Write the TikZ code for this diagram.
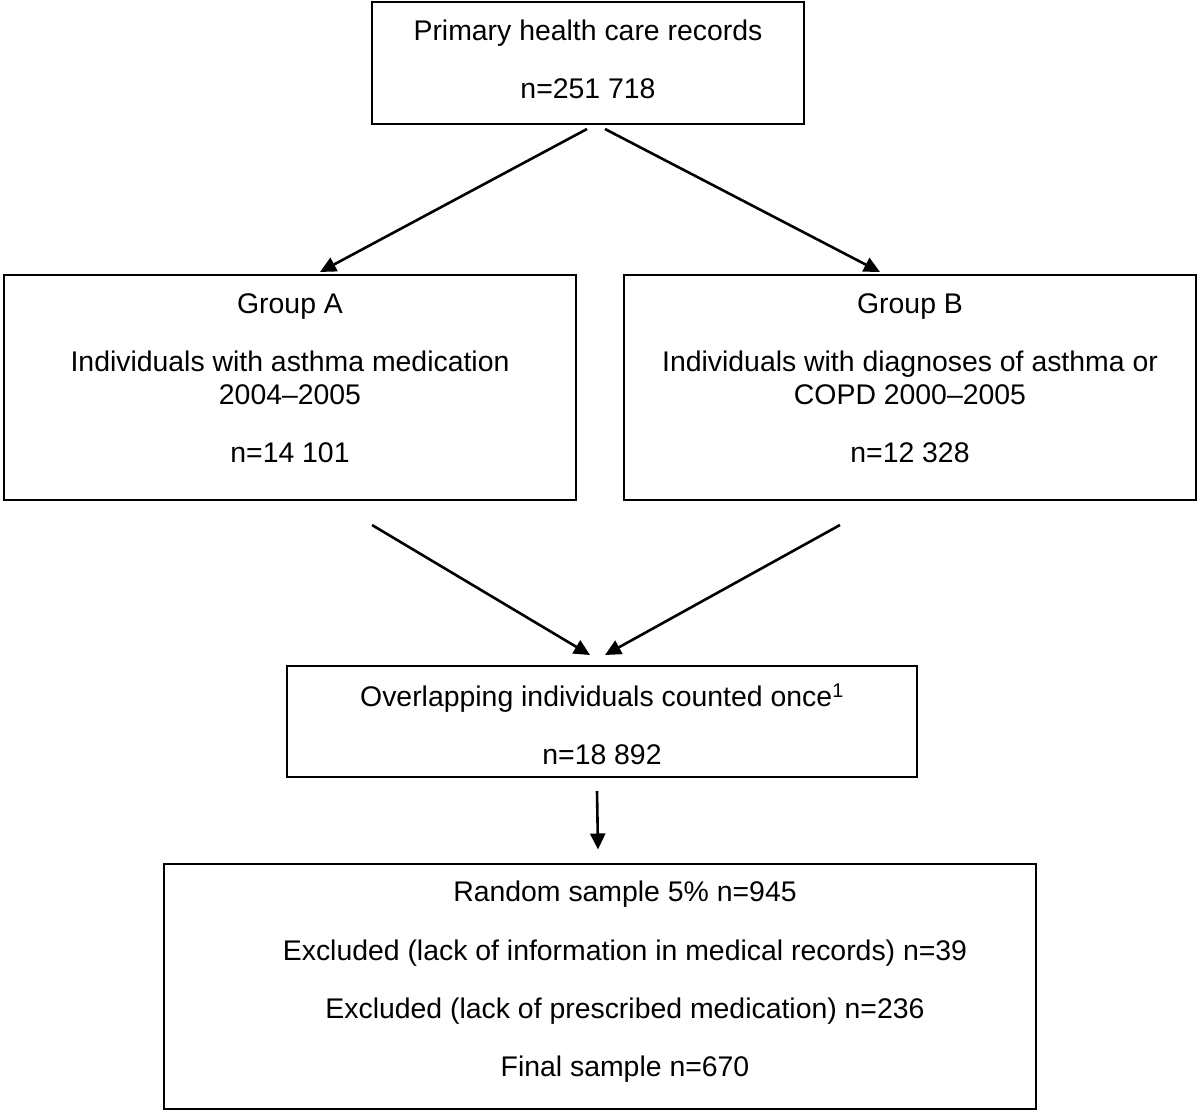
\documentclass[tikz,border=0pt]{standalone}
\usepackage{fontspec}
\setmainfont{Liberation Sans}
\usetikzlibrary{arrows.meta,calc}
\begin{document}
\begin{tikzpicture}[x=1pt,y=-1pt,
  box/.style={draw=black,line width=2pt,inner sep=0pt,minimum width=#1},
  txt/.style={anchor=north,inner sep=0pt,align=center,font=\fontsize{28.4}{33}\selectfont},
  conn/.style={line width=2.6pt,-{Triangle[length=16pt,width=15pt]}}]
\useasboundingbox (0,0) rectangle (1200,1114);
% boxes
\node[box=432,minimum height=122] (top) at (588,63) {};
\node[box=572,minimum height=225] (ga) at (290,387.5) {};
\node[box=572,minimum height=225] (gb) at (910,387.5) {};
\node[box=630,minimum height=111] (ov) at (602,721.5) {};
\node[box=872,minimum height=245] (fin) at (600,986) {};
% texts
\node[txt] (toptxt) at (588,20) {Primary health care records\\[25pt]n=251 718};
\node[txt] (gatxt) at (290,293) {Group A\\[25pt]Individuals with asthma medication\\2004–2005\\[25pt]n=14 101};
\node[txt] (gbtxt) at (910,293) {Group B\\[25pt]Individuals with diagnoses of asthma or\\COPD 2000–2005\\[25pt]n=12 328};
\node[txt] (ovtxt) at (602,684) {Overlapping individuals counted once\textsuperscript{1}\\[25pt]n=18 892};
\node[txt] (fintxt) at (625,881) {Random sample 5\% n=945\\[25.3pt]Excluded (lack of information in medical records) n=39\\[25.3pt]Excluded (lack of prescribed medication) n=236\\[25.3pt]Final sample n=670};
% connector end points
\coordinate (s1) at ($(top.south)+(-1,4)$);
\coordinate (s2) at ($(top.south)+(17,4)$);
\coordinate (e1) at ($(ga.north)+(30,-2)$);
\coordinate (e2) at ($(gb.north)+(-30,-2)$);
\coordinate (s3) at ($(ga.south)+(82,24)$);
\coordinate (s4) at ($(gb.south)+(-70,24)$);
\coordinate (e3) at ($(ov.north)+(-12,-10)$);
\coordinate (e4) at ($(ov.north)+(3,-10)$);
\coordinate (s5) at ($(ov.south)+(-5,13)$);
\coordinate (e5) at ($(fin.north)+(-2,-13)$);
\draw[conn] (s1) -- (e1);
\draw[conn] (s2) -- (e2);
\draw[conn] (s3) -- (e3);
\draw[conn] (s4) -- (e4);
\draw[conn] (s5) -- (e5);
\end{tikzpicture}
\end{document}
